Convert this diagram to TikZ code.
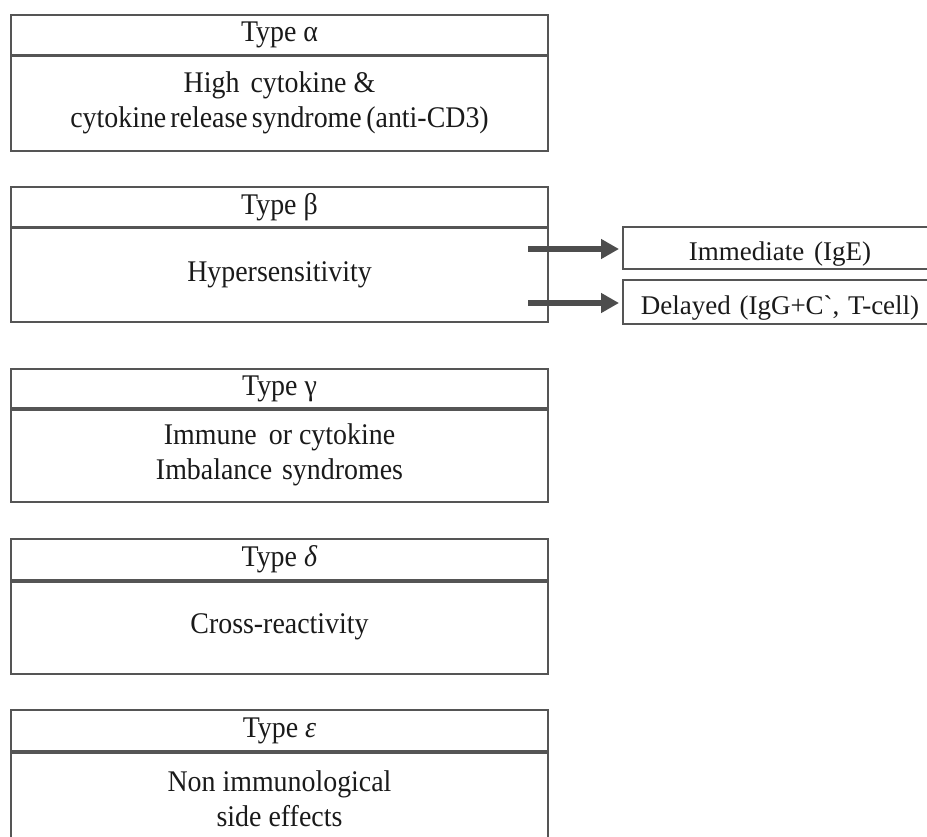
\documentclass[tikz,border=0pt]{standalone}
\usepackage{fontspec}
\setmainfont{Liberation Serif}
\newfontfamily\tallfont{Liberation Serif}[FakeStretch=0.93]
\usetikzlibrary{arrows.meta}
\definecolor{edge}{HTML}{555555}
\definecolor{arr}{HTML}{4D4D4D}
\definecolor{ink}{HTML}{1A1A1A}
\tikzset{
  hdr/.style={draw=edge, line width=2pt, minimum width=537pt, minimum height=40pt, inner sep=0pt, text=ink, font=\tallfont\fontsize{30}{36}\selectfont},
  bodybox/.style={draw=edge, line width=2pt, minimum width=537pt, inner sep=0pt, align=center, text=ink, font=\tallfont\fontsize{30}{35}\selectfont},
  divider/.style={draw=edge, line width=3pt},
  subbox/.style={draw=edge, line width=2pt, minimum width=314pt, inner sep=0pt},
  subtext/.style={text=ink, font=\fontsize{27}{32}\selectfont, yshift=-6pt},
  conn/.style={draw=arr, line width=6pt, -{Triangle[length=18pt, width=19pt]}, shorten >=3pt}
}
\begin{document}
\begin{tikzpicture}[x=1pt, y=-1pt]
\useasboundingbox (0,0) rectangle (927,837);
\clip (0,0) rectangle (927,837);
% Type alpha
\node[hdr] (h1) at (279.5,35) {Type α};
\node[bodybox, minimum height=96pt] (b1) at (279.5,103) {High\hspace{4pt} cytokine \&\\cytokine\hspace{4pt}release\hspace{4pt}syndrome\hspace{4.5pt}(anti-CD3)};
\draw[divider] (h1.south west) -- (h1.south east);
% Type beta
\node[hdr] (h2) at (279.5,207) {Type β};
\node[bodybox, minimum height=95pt] (b2) at (279.5,274.5) {Hypersensitivity};
\draw[divider] (h2.south west) -- (h2.south east);
% Type gamma
\node[hdr, minimum height=39pt] (h3) at (279.5,388.5) {Type γ};
\node[bodybox, minimum height=94pt] (b3) at (279.5,455) {Immune\hspace{5pt} or cytokine\\Imbalance\hspace{3pt} syndromes};
\draw[divider] (h3.south west) -- (h3.south east);
% Type delta
\node[hdr, minimum height=41pt] (h4) at (279.5,559.5) {Type \textit{δ}};
\node[bodybox, minimum height=94pt] (b4) at (279.5,627) {Cross-reactivity};
\draw[divider] (h4.south west) -- (h4.south east);
% Type epsilon
\node[hdr, minimum height=41pt] (h5) at (279.5,730.5) {Type \textit{ε}};
\node[bodybox, minimum height=95pt] (b5) at (279.5,798.5) {Non immunological\\side effects};
\draw[divider] (h5.south west) -- (h5.south east);
% Sub-boxes
\node[subbox, minimum height=42pt, label={[subtext]center:Immediate\hspace{3pt} (IgE)}] (imm) at (780,248) {};
\node[subbox, minimum height=44pt, label={[subtext]center:Delayed\hspace{2pt} (IgG+C\textasciigrave,\hspace{2pt} T-cell)}] (del) at (780,302) {};
% Connectors
\coordinate (s1) at (528,249);
\coordinate (s2) at (528,303);
\draw[conn] (s1) -- (s1 -| imm.west);
\draw[conn] (s2) -- (s2 -| del.west);
\end{tikzpicture}
\end{document}
